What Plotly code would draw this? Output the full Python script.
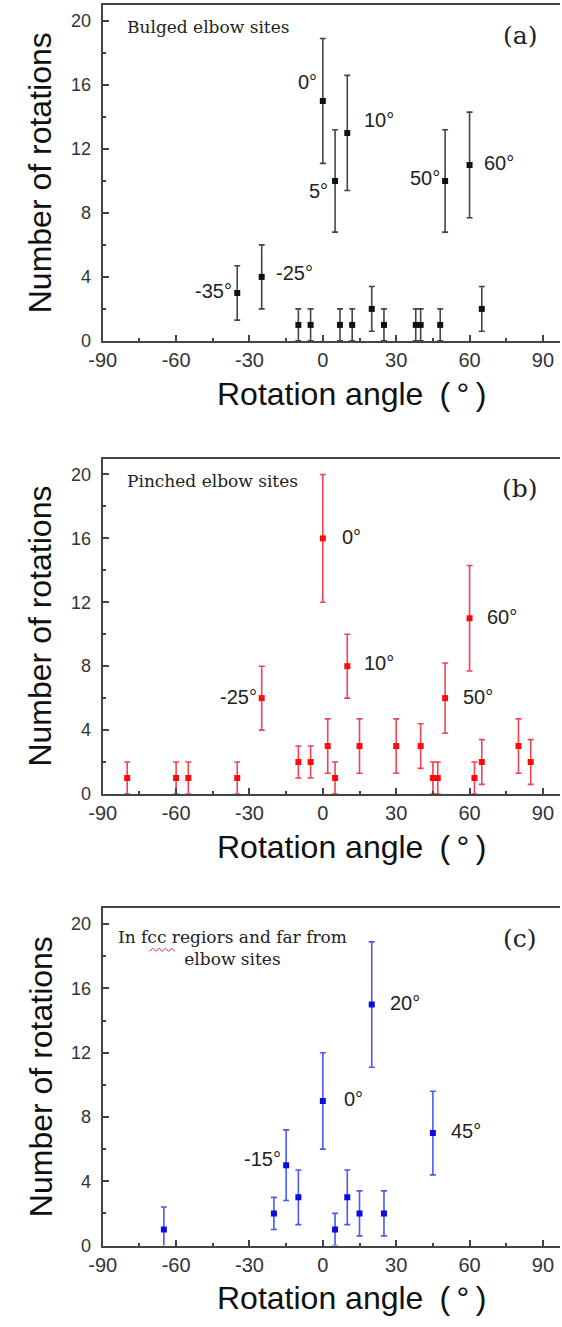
import plotly.graph_objects as go

# ---------------- data ----------------
# (a) Bulged elbow sites
a_angle = [-35, -25, -10, -5, 0, 5, 7, 10, 12, 20, 25, 38, 40, 48, 50, 60, 65]
a_count = [3, 4, 1, 1, 15, 10, 1, 13, 1, 2, 1, 1, 1, 1, 10, 11, 2]
a_err = [1.7, 2.0, 1.0, 1.0, 3.9, 3.2, 1.0, 3.6, 1.0, 1.4, 1.0, 1.0, 1.0, 1.0, 3.2, 3.3, 1.4]

# (b) Pinched elbow sites
b_angle = [-80, -60, -55, -35, -25, -10, -5, 0, 2, 5, 10, 15, 30, 40, 45, 47, 50, 60, 62, 65, 80, 85]
b_count = [1, 1, 1, 1, 6, 2, 2, 16, 3, 1, 8, 3, 3, 3, 1, 1, 6, 11, 1, 2, 3, 2]
b_err = [1.0, 1.0, 1.0, 1.0, 2.0, 1.0, 1.0, 4.0, 1.7, 1.0, 2.0, 1.7, 1.7, 1.4, 1.0, 1.0, 2.2, 3.3, 1.0, 1.4, 1.7, 1.4]

# (c) In fcc regions and far from elbow sites
c_angle = [-65, -20, -15, -10, 0, 5, 10, 15, 20, 25, 45]
c_count = [1, 2, 5, 3, 9, 1, 3, 2, 15, 2, 7]
c_err = [1.4, 1.0, 2.2, 1.7, 3.0, 1.0, 1.7, 1.4, 3.9, 1.4, 2.6]

# peak labels: (text, x, y, anchor)
a_labels = [("0°", -1.5, 16.2, "right"), ("10°", 16, 13.8, "left"), ("5°", 3, 9.4, "right"),
            ("50°", 48.6, 10.2, "right"), ("60°", 65, 11.1, "left"),
            ("-35°", -36.3, 3.1, "right"), ("-25°", -20, 4.25, "left")]
b_labels = [("0°", 7, 16.1, "left"), ("60°", 66.5, 11.1, "left"), ("10°", 16, 8.2, "left"),
            ("-25°", -26.3, 6.1, "right"), ("50°", 56.6, 6.1, "left")]
c_labels = [("20°", 26.5, 15.1, "left"), ("0°", 8, 9.1, "left"), ("45°", 51.4, 7.1, "left"),
            ("-15°", -16.3, 5.4, "right")]

panel_titles = ["Bulged elbow sites", "Pinched elbow sites",
                "In fcc regiors and far from<br>elbow sites"]
panel_tags = ["(a)", "(b)", "(c)"]
x_ticks = [-90, -60, -30, 0, 30, 60, 90]
y_ticks = [0, 4, 8, 12, 16, 20]
x_title = "Rotation angle\u2002(\u2009°\u2009)"
y_title = "Number of rotations"

# ---------------- layout geometry ----------------
W, H = 562, 1327
x_dom = [91 / W, 560 / W]
panels_px = [(5, 343.5), (462, 800), (915, 1255)]  # top, bottom in px
y_doms = [[1 - b / H, 1 - t / H] for t, b in panels_px]

series = [
    (a_angle, a_count, a_err, "#111111", "#444444", a_labels),
    (b_angle, b_count, b_err, "#ff0a0a", "#ee4455", b_labels),
    (c_angle, c_count, c_err, "#0c0cdc", "#4a5aec", c_labels),
]

SERIF = "DejaVu Serif, serif"
SANS = "Liberation Sans, Arial, sans-serif"

fig = go.Figure()
annotations = []
shapes = []
AX_COL = "#444444"
for i, (xs, ys, es, mcol, ecol, labels) in enumerate(series):
    n = "" if i == 0 else str(i + 1)
    xa, ya = "x" + n, "y" + n
    fig.add_trace(go.Scatter(
        x=xs, y=ys, mode="markers", xaxis=xa, yaxis=ya,
        marker=dict(symbol="square", size=6, color=mcol),
        error_y=dict(type="data", array=es, visible=True, color=ecol,
                     thickness=1.6, width=3),
        showlegend=False, cliponaxis=True,
    ))
    fig.layout["xaxis" + n] = dict(
        domain=x_dom, range=[-90, 97], anchor=ya,
        tickvals=x_ticks, ticktext=[str(v) for v in x_ticks],
        ticks="inside", ticklen=6, tickwidth=1.5, tickcolor=AX_COL,
        minor=dict(dtick=15, tick0=-90, ticks="inside", ticklen=3, tickcolor=AX_COL, tickwidth=1.5),
        showline=True, linecolor=AX_COL, linewidth=2, mirror=True,
        showgrid=False, zeroline=False,
        tickfont=dict(family=SANS, size=20, color="#333333"),
    )
    fig.layout["yaxis" + n] = dict(
        domain=y_doms[i], range=[0, 21], anchor=xa,
        tickvals=y_ticks, ticktext=[str(v) for v in y_ticks],
        ticks="inside", ticklen=6, tickwidth=1.5, tickcolor=AX_COL,
        minor=dict(dtick=2, ticks="inside", ticklen=3, tickcolor=AX_COL, tickwidth=1.5),
        showline=True, linecolor=AX_COL, linewidth=2, mirror=False,
        showgrid=False, zeroline=False, ticklabelstandoff=6,
        tickfont=dict(family=SANS, size=18, color="#333333"),
    )
    # peak labels
    for txt, lx, ly, anc in labels:
        annotations.append(dict(x=lx, y=ly, xref=xa, yref=ya, text=txt, showarrow=False,
                                xanchor=anc, yanchor="middle",
                                font=dict(family=SANS, size=20, color="#222222")))
    # panel tag
    annotations.append(dict(x=80.5, y=19.1, xref=xa, yref=ya, text=panel_tags[i], showarrow=False,
                            xanchor="center", yanchor="middle",
                            font=dict(family=SERIF, size=25, color="#222222")))
    # axis titles
    t, b = panels_px[i]
    annotations.append(dict(x=27 / W, y=1 - (t + b) / 2 / H, xref="paper", yref="paper",
                            text=y_title, showarrow=False, textangle=-90,
                            xanchor="center", yanchor="middle",
                            font=dict(family=SANS, size=32, color="#111111")))
    annotations.append(dict(x=346 / W, y=1 - (b + 53) / H, xref="paper", yref="paper",
                            text=x_title, showarrow=False,
                            xanchor="center", yanchor="middle",
                            font=dict(family=SANS, size=32, color="#111111")))

# panel descriptions
annotations.append(dict(x=-81, y=19.6, xref="x", yref="y", text=panel_titles[0], showarrow=False,
                        xanchor="left", yanchor="middle",
                        font=dict(family=SERIF, size=17, color="#222222")))
annotations.append(dict(x=-81, y=19.6, xref="x2", yref="y2", text=panel_titles[1], showarrow=False,
                        xanchor="left", yanchor="middle",
                        font=dict(family=SERIF, size=17, color="#222222")))
annotations.append(dict(x=-37, y=18.5, xref="x3", yref="y3", text=panel_titles[2], showarrow=False,
                        xanchor="center", yanchor="middle", align="center",
                        font=dict(family=SERIF, size=17, color="#222222")))

# red spell-check squiggle under "fcc"
sq_x0, sq_x1, sq_y = 139 / W, 165 / W, 1 - 957 / H
pts = []
nseg = 8
for k in range(nseg + 1):
    px = sq_x0 + (sq_x1 - sq_x0) * k / nseg
    py = sq_y + (1.5 / H if k % 2 else -1.5 / H)
    pts.append(f"{'M' if k == 0 else 'L'} {px:.5f} {py:.5f}")
shapes.append(dict(type="path", xref="paper", yref="paper", path=" ".join(pts),
                   line=dict(color="#e03030", width=1)))

fig.update_layout(
    width=W, height=H, margin=dict(l=0, r=0, t=0, b=0),
    paper_bgcolor="white", plot_bgcolor="white",
    annotations=annotations, shapes=shapes,
)

fig.write_html("out.html")
